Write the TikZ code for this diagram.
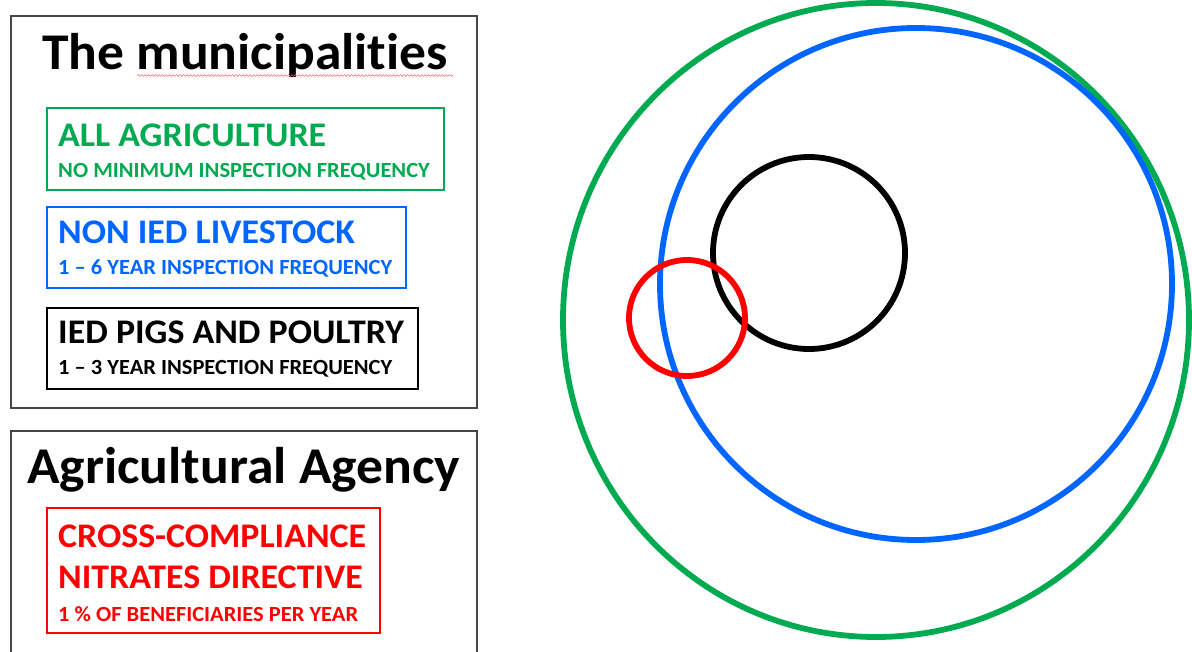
\documentclass[tikz,border=0pt]{standalone}
\usepackage{fontspec}
\setmainfont[Ligatures={NoCommon},FakeStretch=1.04]{Carlito}
\usetikzlibrary{decorations.pathmorphing}
\definecolor{agrgreen}{RGB}{0,170,80}
\definecolor{livblue}{RGB}{0,102,255}
\definecolor{ccred}{RGB}{255,0,0}
\definecolor{panelgray}{RGB}{70,70,70}
\begin{document}
\begin{tikzpicture}[x=1pt,y=-1pt,
  panel/.style={draw=panelgray,line width=1.3pt},
  catbox/.style={line width=1.1pt},
  ring/.style={line width=5.8pt},
  lbl/.style={anchor=base west,inner sep=0pt,font=\bfseries},
  head/.style={lbl,font=\fontsize{51.5}{51.5}\selectfont\bfseries},
  big/.style={lbl,font=\fontsize{34.5}{34.5}\selectfont\bfseries},
  small/.style={lbl,font=\fontsize{21.6}{21.6}\selectfont\bfseries}]
\fill[white] (0,0) rectangle (1192,652);
\clip (0,0) rectangle (1192,652);

% municipalities panel
\draw[panel] (11,16) rectangle (477,408);
\node[head] (munitle) at (42,70) {The municipalities};
\draw[ccred!60,line width=0.6pt,decorate,decoration={snake,amplitude=0.9pt,segment length=3.5pt}]
  (137,75.5) -- (453,75.5);

\draw[catbox,draw=agrgreen] (47,108) rectangle (444,190);
\node[big,text=agrgreen] (allagr) at (58,147) {ALL AGRICULTURE};
\node[small,text=agrgreen] (allfreq) at (58,178) {NO MINIMUM INSPECTION FREQUENCY};

\draw[catbox,draw=livblue] (47,207) rectangle (406,288);
\node[big,text=livblue] (nonied) at (58,244) {NON IED LIVESTOCK};
\node[small,text=livblue] (noniedfreq) at (58,275) {1 – 6 YEAR INSPECTION FREQUENCY};

\draw[catbox,draw=black,line width=1.8pt] (47,308) rectangle (418,389);
\node[big,text=black] (ied) at (58,344) {IED PIGS AND POULTRY};
\node[small,text=black] (iedfreq) at (58,375) {1 – 3 YEAR INSPECTION FREQUENCY};

% agricultural agency panel
\draw[panel] (11,431) rectangle (477,670);
\node[head,font=\fontsize{51.6}{51.6}\selectfont\bfseries] (agtitle) at (27,483) {Agricultural Agency};

\draw[catbox,draw=ccred] (47,508) rectangle (380,633);
\node[big,text=ccred] (cross) at (58,547) {CROSS-COMPLIANCE};
\node[big,text=ccred] (nitr) at (58,588) {NITRATES DIRECTIVE};
\node[small,text=ccred] (benef) at (58,621) {1 \% OF BENEFICIARIES PER YEAR};

% overlapping scopes
\draw[ring,agrgreen] (876,320) ellipse [x radius=313pt,y radius=317pt];
\draw[ring,livblue] (916,284) circle [radius=256pt];
\draw[ring,black] (809,253) circle [radius=96pt];
\draw[ring,ccred] (687,318) circle [radius=58pt];
\end{tikzpicture}
\end{document}
